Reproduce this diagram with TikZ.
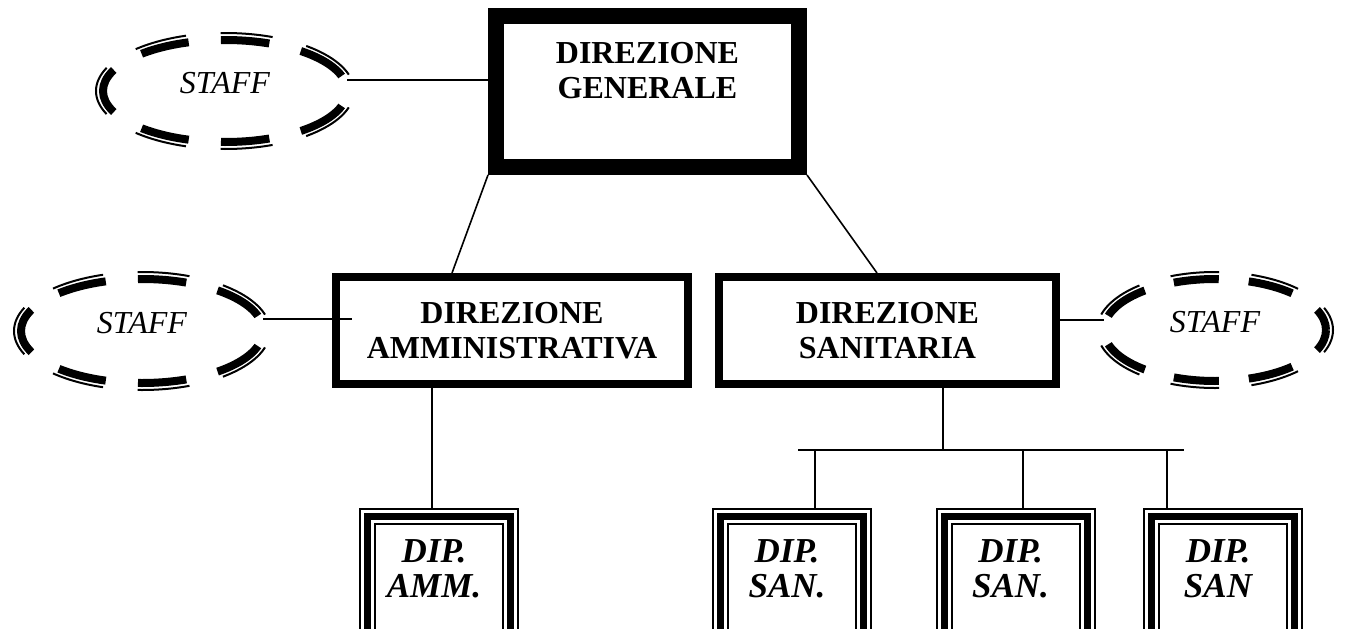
\documentclass[tikz,border=0pt]{standalone}
\usepackage{fontspec}
\setmainfont{Liberation Serif}
\usetikzlibrary{shapes.geometric}
\newcommand\staffring[4]{%
  \pgfmathsetmacro\Pin{pi*(3*(#2+#3)-sqrt(3*#2+#3)*sqrt(#2+3*#3))}%
  \pgfmathsetmacro\Pout{pi*(3*(#2+#3+14)-sqrt(3*#2+#3+28)*sqrt(#2+3*#3+28))}%
  \pgfmathsetmacro\Cin{\Pin/7}%
  \pgfmathsetmacro\Cout{\Pout/7}%
  \pgfmathsetmacro\Din{0.6*\Cin}\pgfmathsetmacro\Gin{0.4*\Cin}%
  \pgfmathsetmacro\Dout{0.6*\Cout}\pgfmathsetmacro\Gout{0.4*\Cout}%
  \ifnum#4=0
    \pgfmathsetmacro\Fin{0.8*\Cin}\pgfmathsetmacro\Fout{0.8*\Cout}%
  \else
    \pgfmathsetmacro\Fin{0.3*\Cin}\pgfmathsetmacro\Fout{0.3*\Cout}%
  \fi
  \pgfmathsetmacro\Ao{#2+7}\pgfmathsetmacro\Bo{#3+7}%
  \draw[line width=8pt, dash pattern=on \Din pt off \Gin pt, dash phase=\Fin pt]
    (#1.center) ellipse [x radius=#2pt, y radius=#3pt];
  \draw[line width=2pt, dash pattern=on \Dout pt off \Gout pt, dash phase=\Fout pt]
    (#1.center) ellipse [x radius=\Ao pt, y radius=\Bo pt];
}
\newcommand\dipframe[1]{%
  \draw[line width=7pt] ([shift={(8.5,8.5)}]#1.north west) rectangle ([shift={(-8.5,-8.5)}]#1.south east);
  \draw[line width=2pt] ([shift={(16,16)}]#1.north west) rectangle ([shift={(-16,-16)}]#1.south east);
}
\begin{document}
\begin{tikzpicture}[x=1pt,y=-1pt,
  conn/.style={line width=1.6pt},
  headbox/.style={draw, line width=8pt, inner sep=0pt, align=center,
    font=\bfseries\fontsize{32}{35}\selectfont},
  headtext/.style={align=center, inner sep=0pt, font=\bfseries\fontsize{32}{35}\selectfont},
  dipbox/.style={draw, line width=2pt, minimum width=158pt, minimum height=151pt, inner sep=0pt},
  diptext/.style={align=center, inner sep=0pt, font=\bfseries\itshape\fontsize{35}{35}\selectfont},
  staffnode/.style={ellipse, inner sep=0pt, outer sep=0pt, text depth=16pt,
    font=\itshape\fontsize{32}{35}\selectfont}]
\useasboundingbox (0,0) rectangle (1345,629);
\clip (0,0) rectangle (1345,629);
\fill[white] (0,0) rectangle (1345,629);

% main boxes
\node[headbox, line width=16pt, minimum width=303pt, minimum height=151pt] (dg) at (647.5,91.5) {};
\node[headtext] (dgt) at (647.5,71) {DIREZIONE\\GENERALE};
\node[headbox, minimum width=352pt, minimum height=107pt] (da) at (512,330.5) {DIREZIONE\\AMMINISTRATIVA};
\node[headbox, minimum width=337pt, minimum height=107pt] (ds) at (887.5,330.5) {DIREZIONE\\SANITARIA};

% department boxes
\node[dipbox] (dam) at (439,584.5) {};
\node[dipbox] (dp1) at (792,584.5) {};
\node[dipbox] (dp2) at (1015.5,584.5) {};
\node[dipbox] (dp3) at (1223,584.5) {};
\dipframe{dam}\dipframe{dp1}\dipframe{dp2}\dipframe{dp3}
\node[diptext] (damt) at (434,569) {DIP.\\AMM.};
\node[diptext] (dp1t) at (787,569) {DIP.\\SAN.};
\node[diptext] (dp2t) at (1010.5,569) {DIP.\\SAN.};
\node[diptext] (dp3t) at (1218,569) {DIP.\\SAN};

% staff ellipses
\node[staffnode, minimum width=244pt, minimum height=102pt] (s1) at (225,91) {STAFF};
\node[staffnode, minimum width=242pt, minimum height=104pt] (s2) at (142,331) {STAFF};
\node[staffnode, minimum width=222pt, minimum height=102pt] (s3) at (1215,330) {STAFF};
\staffring{s1}{122}{51}{0}
\staffring{s2}{121}{52}{0}
\staffring{s3}{111}{51}{1}

% connectors
\coordinate (l1) at (352,80);
\draw[conn] (s1.east |- l1) -- (dg.west |- l1);
\coordinate (l2) at (352,319);
\draw[conn] (s2.east |- l2) -- (l2);
\coordinate (l3) at (0,320);
\draw[conn] (ds.east |- l3) -- (s3.west |- l3);
\coordinate (c1) at (452,0);
\draw[conn] (dg.south west) -- (da.north -| c1);
\coordinate (c2) at (877,0);
\draw[conn] (dg.south east) -- (ds.north -| c2);
\coordinate (c3) at (432,0);
\draw[conn] (da.south -| c3) -- (dam.north -| c3);
\coordinate (bl) at (798,450);
\coordinate (br) at (1184,450);
\draw[conn] (bl) -- (br);
\coordinate (b0) at (943,450);
\draw[conn] (ds.south -| b0) -- (b0);
\coordinate (b1) at (815,450);
\coordinate (b2) at (1023,450);
\coordinate (b3) at (1167,450);
\draw[conn] (b1) -- (dp1.north -| b1);
\draw[conn] (b2) -- (dp2.north -| b2);
\draw[conn] (b3) -- (dp3.north -| b3);
\end{tikzpicture}
\end{document}
